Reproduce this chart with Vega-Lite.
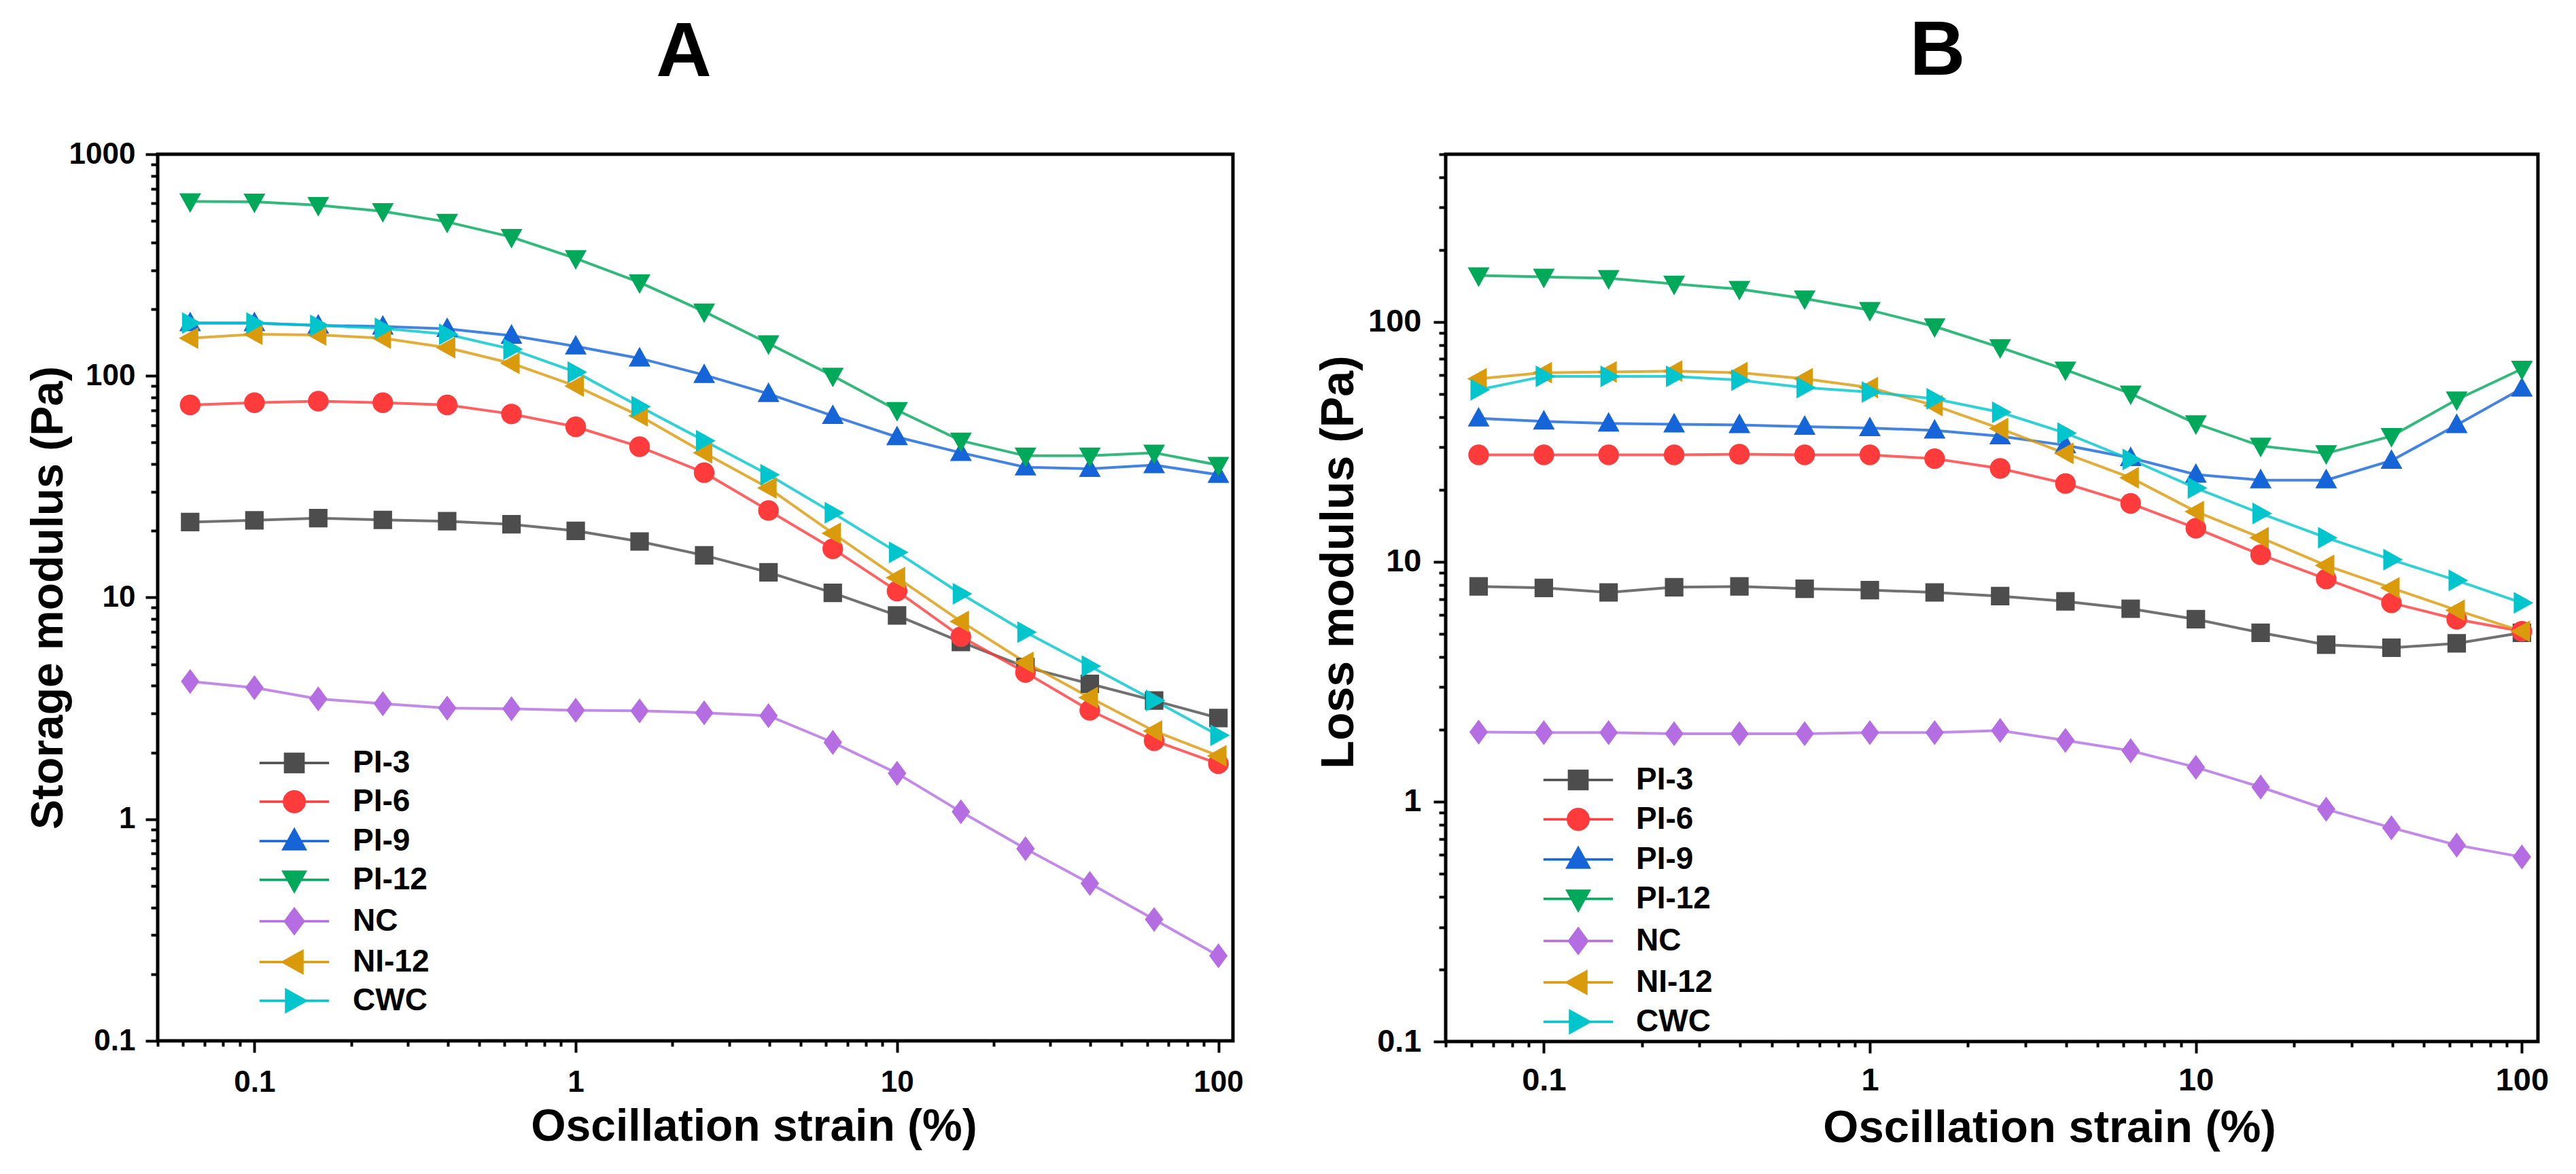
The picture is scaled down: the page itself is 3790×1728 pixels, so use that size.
{
  "$schema": "https://vega.github.io/schema/vega-lite/v6.json",
  "padding": {"left": 35, "right": 40, "top": 17, "bottom": 10},
  "spacing": 86,
  "datasets": {
    "storage": [
      {"strain": 0.0631, "series": "PI-3", "G": 21.9}, {"strain": 0.1, "series": "PI-3", "G": 22.3}, {"strain": 0.158, "series": "PI-3", "G": 22.8}, {"strain": 0.251, "series": "PI-3", "G": 22.4}, {"strain": 0.398, "series": "PI-3", "G": 22.1}, {"strain": 0.631, "series": "PI-3", "G": 21.4}, {"strain": 1, "series": "PI-3", "G": 20.0}, {"strain": 1.58, "series": "PI-3", "G": 17.9}, {"strain": 2.51, "series": "PI-3", "G": 15.5}, {"strain": 3.98, "series": "PI-3", "G": 13.0}, {"strain": 6.31, "series": "PI-3", "G": 10.5}, {"strain": 10, "series": "PI-3", "G": 8.3}, {"strain": 15.8, "series": "PI-3", "G": 6.3}, {"strain": 25.1, "series": "PI-3", "G": 4.86}, {"strain": 39.8, "series": "PI-3", "G": 4.08}, {"strain": 63.1, "series": "PI-3", "G": 3.43}, {"strain": 100, "series": "PI-3", "G": 2.86},
      {"strain": 0.0631, "series": "PI-6", "G": 74}, {"strain": 0.1, "series": "PI-6", "G": 75.7}, {"strain": 0.158, "series": "PI-6", "G": 76.9}, {"strain": 0.251, "series": "PI-6", "G": 75.7}, {"strain": 0.398, "series": "PI-6", "G": 74}, {"strain": 0.631, "series": "PI-6", "G": 67.3}, {"strain": 1, "series": "PI-6", "G": 58.9}, {"strain": 1.58, "series": "PI-6", "G": 47.9}, {"strain": 2.51, "series": "PI-6", "G": 36.6}, {"strain": 3.98, "series": "PI-6", "G": 24.7}, {"strain": 6.31, "series": "PI-6", "G": 16.6}, {"strain": 10, "series": "PI-6", "G": 10.7}, {"strain": 15.8, "series": "PI-6", "G": 6.66}, {"strain": 25.1, "series": "PI-6", "G": 4.59}, {"strain": 39.8, "series": "PI-6", "G": 3.10}, {"strain": 63.1, "series": "PI-6", "G": 2.26}, {"strain": 100, "series": "PI-6", "G": 1.78},
      {"strain": 0.0631, "series": "PI-9", "G": 173}, {"strain": 0.1, "series": "PI-9", "G": 173}, {"strain": 0.158, "series": "PI-9", "G": 169}, {"strain": 0.251, "series": "PI-9", "G": 167}, {"strain": 0.398, "series": "PI-9", "G": 163}, {"strain": 0.631, "series": "PI-9", "G": 152}, {"strain": 1, "series": "PI-9", "G": 136}, {"strain": 1.58, "series": "PI-9", "G": 120}, {"strain": 2.51, "series": "PI-9", "G": 101}, {"strain": 3.98, "series": "PI-9", "G": 83}, {"strain": 6.31, "series": "PI-9", "G": 66}, {"strain": 10, "series": "PI-9", "G": 53}, {"strain": 15.8, "series": "PI-9", "G": 45}, {"strain": 25.1, "series": "PI-9", "G": 38.7}, {"strain": 39.8, "series": "PI-9", "G": 38.1}, {"strain": 63.1, "series": "PI-9", "G": 39.6}, {"strain": 100, "series": "PI-9", "G": 35.8},
      {"strain": 0.0631, "series": "PI-12", "G": 612}, {"strain": 0.1, "series": "PI-12", "G": 610}, {"strain": 0.158, "series": "PI-12", "G": 589}, {"strain": 0.251, "series": "PI-12", "G": 553}, {"strain": 0.398, "series": "PI-12", "G": 495}, {"strain": 0.631, "series": "PI-12", "G": 423}, {"strain": 1, "series": "PI-12", "G": 339}, {"strain": 1.58, "series": "PI-12", "G": 264}, {"strain": 2.51, "series": "PI-12", "G": 195}, {"strain": 3.98, "series": "PI-12", "G": 140}, {"strain": 6.31, "series": "PI-12", "G": 100}, {"strain": 10, "series": "PI-12", "G": 70}, {"strain": 15.8, "series": "PI-12", "G": 51}, {"strain": 25.1, "series": "PI-12", "G": 43.6}, {"strain": 39.8, "series": "PI-12", "G": 43.6}, {"strain": 63.1, "series": "PI-12", "G": 45}, {"strain": 100, "series": "PI-12", "G": 39.6},
      {"strain": 0.0631, "series": "NC", "G": 4.18}, {"strain": 0.1, "series": "NC", "G": 3.92}, {"strain": 0.158, "series": "NC", "G": 3.49}, {"strain": 0.251, "series": "NC", "G": 3.32}, {"strain": 0.398, "series": "NC", "G": 3.17}, {"strain": 0.631, "series": "NC", "G": 3.15}, {"strain": 1, "series": "NC", "G": 3.10}, {"strain": 1.58, "series": "NC", "G": 3.08}, {"strain": 2.51, "series": "NC", "G": 3.02}, {"strain": 3.98, "series": "NC", "G": 2.93}, {"strain": 6.31, "series": "NC", "G": 2.22}, {"strain": 10, "series": "NC", "G": 1.61}, {"strain": 15.8, "series": "NC", "G": 1.08}, {"strain": 25.1, "series": "NC", "G": 0.736}, {"strain": 39.8, "series": "NC", "G": 0.513}, {"strain": 63.1, "series": "NC", "G": 0.353}, {"strain": 100, "series": "NC", "G": 0.242},
      {"strain": 0.0631, "series": "NI-12", "G": 148}, {"strain": 0.1, "series": "NI-12", "G": 154}, {"strain": 0.158, "series": "NI-12", "G": 153}, {"strain": 0.251, "series": "NI-12", "G": 148}, {"strain": 0.398, "series": "NI-12", "G": 134}, {"strain": 0.631, "series": "NI-12", "G": 114}, {"strain": 1, "series": "NI-12", "G": 90}, {"strain": 1.58, "series": "NI-12", "G": 66}, {"strain": 2.51, "series": "NI-12", "G": 45}, {"strain": 3.98, "series": "NI-12", "G": 31.2}, {"strain": 6.31, "series": "NI-12", "G": 19.5}, {"strain": 10, "series": "NI-12", "G": 12.3}, {"strain": 15.8, "series": "NI-12", "G": 7.8}, {"strain": 25.1, "series": "NI-12", "G": 5.1}, {"strain": 39.8, "series": "NI-12", "G": 3.54}, {"strain": 63.1, "series": "NI-12", "G": 2.50}, {"strain": 100, "series": "NI-12", "G": 1.93},
      {"strain": 0.0631, "series": "CWC", "G": 173}, {"strain": 0.1, "series": "CWC", "G": 173}, {"strain": 0.158, "series": "CWC", "G": 169}, {"strain": 0.251, "series": "CWC", "G": 164}, {"strain": 0.398, "series": "CWC", "G": 154}, {"strain": 0.631, "series": "CWC", "G": 132}, {"strain": 1, "series": "CWC", "G": 104}, {"strain": 1.58, "series": "CWC", "G": 72.7}, {"strain": 2.51, "series": "CWC", "G": 51}, {"strain": 3.98, "series": "CWC", "G": 35.8}, {"strain": 6.31, "series": "CWC", "G": 24.1}, {"strain": 10, "series": "CWC", "G": 16.0}, {"strain": 15.8, "series": "CWC", "G": 10.4}, {"strain": 25.1, "series": "CWC", "G": 6.98}, {"strain": 39.8, "series": "CWC", "G": 4.90}, {"strain": 63.1, "series": "CWC", "G": 3.43}, {"strain": 100, "series": "CWC", "G": 2.39}
    ],
    "loss": [
      {"strain": 0.0631, "series": "PI-3", "G": 7.89}, {"strain": 0.1, "series": "PI-3", "G": 7.78}, {"strain": 0.158, "series": "PI-3", "G": 7.45}, {"strain": 0.251, "series": "PI-3", "G": 7.83}, {"strain": 0.398, "series": "PI-3", "G": 7.89}, {"strain": 0.631, "series": "PI-3", "G": 7.72}, {"strain": 1, "series": "PI-3", "G": 7.62}, {"strain": 1.58, "series": "PI-3", "G": 7.45}, {"strain": 2.51, "series": "PI-3", "G": 7.19}, {"strain": 3.98, "series": "PI-3", "G": 6.84}, {"strain": 6.31, "series": "PI-3", "G": 6.37}, {"strain": 10, "series": "PI-3", "G": 5.76}, {"strain": 15.8, "series": "PI-3", "G": 5.06}, {"strain": 25.1, "series": "PI-3", "G": 4.51}, {"strain": 39.8, "series": "PI-3", "G": 4.38}, {"strain": 63.1, "series": "PI-3", "G": 4.57}, {"strain": 100, "series": "PI-3", "G": 5.06},
      {"strain": 0.0631, "series": "PI-6", "G": 27.9}, {"strain": 0.1, "series": "PI-6", "G": 27.9}, {"strain": 0.158, "series": "PI-6", "G": 27.9}, {"strain": 0.251, "series": "PI-6", "G": 27.9}, {"strain": 0.398, "series": "PI-6", "G": 28.1}, {"strain": 0.631, "series": "PI-6", "G": 27.9}, {"strain": 1, "series": "PI-6", "G": 27.9}, {"strain": 1.58, "series": "PI-6", "G": 26.9}, {"strain": 2.51, "series": "PI-6", "G": 24.5}, {"strain": 3.98, "series": "PI-6", "G": 21.2}, {"strain": 6.31, "series": "PI-6", "G": 17.5}, {"strain": 10, "series": "PI-6", "G": 13.8}, {"strain": 15.8, "series": "PI-6", "G": 10.7}, {"strain": 25.1, "series": "PI-6", "G": 8.48}, {"strain": 39.8, "series": "PI-6", "G": 6.74}, {"strain": 63.1, "series": "PI-6", "G": 5.76}, {"strain": 100, "series": "PI-6", "G": 5.13},
      {"strain": 0.0631, "series": "PI-9", "G": 39.6}, {"strain": 0.1, "series": "PI-9", "G": 38.5}, {"strain": 0.158, "series": "PI-9", "G": 37.7}, {"strain": 0.251, "series": "PI-9", "G": 37.4}, {"strain": 0.398, "series": "PI-9", "G": 37.2}, {"strain": 0.631, "series": "PI-9", "G": 36.6}, {"strain": 1, "series": "PI-9", "G": 36.1}, {"strain": 1.58, "series": "PI-9", "G": 35.3}, {"strain": 2.51, "series": "PI-9", "G": 33.4}, {"strain": 3.98, "series": "PI-9", "G": 30.6}, {"strain": 6.31, "series": "PI-9", "G": 27.1}, {"strain": 10, "series": "PI-9", "G": 23.1}, {"strain": 15.8, "series": "PI-9", "G": 21.9}, {"strain": 25.1, "series": "PI-9", "G": 21.9}, {"strain": 39.8, "series": "PI-9", "G": 26.4}, {"strain": 63.1, "series": "PI-9", "G": 37.2}, {"strain": 100, "series": "PI-9", "G": 52.8},
      {"strain": 0.0631, "series": "PI-12", "G": 156}, {"strain": 0.1, "series": "PI-12", "G": 154}, {"strain": 0.158, "series": "PI-12", "G": 152}, {"strain": 0.251, "series": "PI-12", "G": 144}, {"strain": 0.398, "series": "PI-12", "G": 137}, {"strain": 0.631, "series": "PI-12", "G": 125}, {"strain": 1, "series": "PI-12", "G": 112}, {"strain": 1.58, "series": "PI-12", "G": 95.7}, {"strain": 2.51, "series": "PI-12", "G": 78.3}, {"strain": 3.98, "series": "PI-12", "G": 63.2}, {"strain": 6.31, "series": "PI-12", "G": 50.2}, {"strain": 10, "series": "PI-12", "G": 37.7}, {"strain": 15.8, "series": "PI-12", "G": 30.4}, {"strain": 25.1, "series": "PI-12", "G": 28.3}, {"strain": 39.8, "series": "PI-12", "G": 33.4}, {"strain": 63.1, "series": "PI-12", "G": 47.4}, {"strain": 100, "series": "PI-12", "G": 63.7},
      {"strain": 0.0631, "series": "NC", "G": 1.95}, {"strain": 0.1, "series": "NC", "G": 1.94}, {"strain": 0.158, "series": "NC", "G": 1.94}, {"strain": 0.251, "series": "NC", "G": 1.92}, {"strain": 0.398, "series": "NC", "G": 1.92}, {"strain": 0.631, "series": "NC", "G": 1.92}, {"strain": 1, "series": "NC", "G": 1.94}, {"strain": 1.58, "series": "NC", "G": 1.94}, {"strain": 2.51, "series": "NC", "G": 1.98}, {"strain": 3.98, "series": "NC", "G": 1.80}, {"strain": 6.31, "series": "NC", "G": 1.63}, {"strain": 10, "series": "NC", "G": 1.39}, {"strain": 15.8, "series": "NC", "G": 1.15}, {"strain": 25.1, "series": "NC", "G": 0.93}, {"strain": 39.8, "series": "NC", "G": 0.778}, {"strain": 63.1, "series": "NC", "G": 0.659}, {"strain": 100, "series": "NC", "G": 0.588},
      {"strain": 0.0631, "series": "NI-12", "G": 57.9}, {"strain": 0.1, "series": "NI-12", "G": 61.4}, {"strain": 0.158, "series": "NI-12", "G": 61.8}, {"strain": 0.251, "series": "NI-12", "G": 62.3}, {"strain": 0.398, "series": "NI-12", "G": 61.4}, {"strain": 0.631, "series": "NI-12", "G": 57.9}, {"strain": 1, "series": "NI-12", "G": 53.2}, {"strain": 1.58, "series": "NI-12", "G": 44.8}, {"strain": 2.51, "series": "NI-12", "G": 35.9}, {"strain": 3.98, "series": "NI-12", "G": 28.3}, {"strain": 6.31, "series": "NI-12", "G": 22.4}, {"strain": 10, "series": "NI-12", "G": 16.2}, {"strain": 15.8, "series": "NI-12", "G": 12.6}, {"strain": 25.1, "series": "NI-12", "G": 9.65}, {"strain": 39.8, "series": "NI-12", "G": 7.78}, {"strain": 63.1, "series": "NI-12", "G": 6.28}, {"strain": 100, "series": "NI-12", "G": 5.13},
      {"strain": 0.0631, "series": "CWC", "G": 52.1}, {"strain": 0.1, "series": "CWC", "G": 59.3}, {"strain": 0.158, "series": "CWC", "G": 59.3}, {"strain": 0.251, "series": "CWC", "G": 59.3}, {"strain": 0.398, "series": "CWC", "G": 57.2}, {"strain": 0.631, "series": "CWC", "G": 53.2}, {"strain": 1, "series": "CWC", "G": 51.0}, {"strain": 1.58, "series": "CWC", "G": 47.8}, {"strain": 2.51, "series": "CWC", "G": 42.0}, {"strain": 3.98, "series": "CWC", "G": 34.4}, {"strain": 6.31, "series": "CWC", "G": 26.7}, {"strain": 10, "series": "CWC", "G": 20.3}, {"strain": 15.8, "series": "CWC", "G": 15.9}, {"strain": 25.1, "series": "CWC", "G": 12.6}, {"strain": 39.8, "series": "CWC", "G": 10.2}, {"strain": 63.1, "series": "CWC", "G": 8.36}, {"strain": 100, "series": "CWC", "G": 6.74}
    ]
  },
  "config": {
    "font": "Liberation Sans",
    "view": {"stroke": "black", "strokeWidth": 5},
    "axis": {
      "domain": false,
      "grid": false,
      "tickColor": "black",
      "tickWidth": 4,
      "tickSize": 17,
      "labelColor": "black",
      "labelFontWeight": "bold",
      "labelFlush": false,
      "labelOverlap": false,
      "titleColor": "black",
      "titleFontWeight": "bold"
    },
    "title": {"fontSize": 113, "fontWeight": "bold", "color": "black", "frame": "group", "anchor": "middle"}
  },
  "resolve": {"scale": {"color": "independent", "shape": "independent"}},
  "hconcat": [
    {
      "title": {"text": "A", "dx": -17, "offset": 69},
      "width": 1582,
      "height": 1305,
      "data": {"name": "storage"},
      "encoding": {
        "x": {
          "field": "strain", "type": "quantitative",
          "scale": {"type": "log", "domain": [0.05, 111], "nice": false},
          "axis": {
            "title": "Oscillation strain (%)", "titleFontSize": 66, "titleX": 877, "titleAlign": "center", "titlePadding": 10,
            "minExtent": 84, "maxExtent": 84,
            "values": [0.05, 0.06, 0.07, 0.08, 0.09, 0.1, 0.2, 0.3, 0.4, 0.5, 0.6, 0.7, 0.8, 0.9, 1, 2, 3, 4, 5, 6, 7, 8, 9, 10, 20, 30, 40, 50, 60, 70, 80, 90, 100],
            "format": "~g",
            "labelExpr": "datum.value == 0.1 || datum.value == 1 || datum.value == 10 || datum.value == 100 ? datum.label : ''",
            "tickSize": {"condition": {"test": "datum.value == 0.1 || datum.value == 1 || datum.value == 10 || datum.value == 100", "value": 17}, "value": 8},
            "labelFontSize": 44, "labelPadding": 22
          }
        },
        "y": {
          "field": "G", "type": "quantitative",
          "scale": {"type": "log", "domain": [0.1, 1000], "nice": false},
          "axis": {
            "title": "Storage modulus (Pa)", "titleFontSize": 66, "titlePadding": 15,
            "minExtent": 112, "maxExtent": 112,
            "values": [0.1, 0.2, 0.3, 0.4, 0.5, 0.6, 0.7, 0.8, 0.9, 1, 2, 3, 4, 5, 6, 7, 8, 9, 10, 20, 30, 40, 50, 60, 70, 80, 90, 100, 200, 300, 400, 500, 600, 700, 800, 900, 1000],
            "format": "~g",
            "labelExpr": "datum.value == 0.1 || datum.value == 1 || datum.value == 10 || datum.value == 100 || datum.value == 1000 ? datum.label : ''",
            "tickSize": {"condition": {"test": "datum.value == 0.1 || datum.value == 1 || datum.value == 10 || datum.value == 100 || datum.value == 1000", "value": 18}, "value": 10},
            "labelFontSize": 44, "labelPadding": 15
          }
        },
        "color": {
          "field": "series", "type": "nominal",
          "scale": {"domain": ["PI-3", "PI-6", "PI-9", "PI-12", "NC", "NI-12", "CWC"], "range": ["#4d4d4d", "#ff3b3b", "#1565d8", "#00a85a", "#b46ee2", "#d99a0b", "#00c5cc"]},
          "legend": {"orient": "none", "legendX": 178, "legendY": 873, "title": null, "padding": 0, "symbolSize": 1024, "symbolStrokeWidth": 3.5, "symbolOpacity": 1, "labelFontSize": 46, "labelFontWeight": "bold", "labelColor": "black", "labelOffset": 63, "rowPadding": 11}
        }
      },
      "layer": [
        {"mark": {"type": "line", "strokeWidth": 4, "opacity": 0.8}},
        {
          "mark": {"type": "point", "filled": true, "opacity": 1, "size": 1024, "strokeWidth": 0},
          "encoding": {
            "shape": {
              "field": "series", "type": "nominal",
              "scale": {"domain": ["PI-3", "PI-6", "PI-9", "PI-12", "NC", "NI-12", "CWC"], "range": ["M-3.2,0H3.2M-0.85,-0.85H0.85V0.85H-0.85Z", "M-3.2,0H3.2M0.95,0A0.95,0.95,0,1,1,-0.95,0A0.95,0.95,0,1,1,0.95,0Z", "M-3.2,0H3.2M0,-1.05L1,0.75H-1Z", "M-3.2,0H3.2M0,1.05L1,-0.75H-1Z", "M-3.2,0H3.2M0,-1.15L0.85,0L0,1.15L-0.85,0Z", "M-3.2,0H3.2M-1.05,0L0.75,-1V1Z", "M-3.2,0H3.2M1.05,0L-0.75,-1V1Z"]},
              "legend": {"orient": "none", "legendX": 178, "legendY": 873, "title": null, "padding": 0, "symbolSize": 1024, "symbolStrokeWidth": 3.5, "symbolOpacity": 1, "labelFontSize": 46, "labelFontWeight": "bold", "labelColor": "black", "labelOffset": 63, "rowPadding": 11}
            }
          }
        }
      ]
    },
    {
      "title": {"text": "B", "dx": -80, "offset": 69},
      "width": 1607,
      "height": 1306,
      "data": {"name": "loss"},
      "encoding": {
        "x": {
          "field": "strain", "type": "quantitative",
          "scale": {"type": "log", "domain": [0.05, 112], "nice": false},
          "axis": {
            "title": "Oscillation strain (%)", "titleFontSize": 67, "titleX": 888, "titleAlign": "center", "titlePadding": 10,
            "minExtent": 84, "maxExtent": 84,
            "values": [0.05, 0.06, 0.07, 0.08, 0.09, 0.1, 0.2, 0.3, 0.4, 0.5, 0.6, 0.7, 0.8, 0.9, 1, 2, 3, 4, 5, 6, 7, 8, 9, 10, 20, 30, 40, 50, 60, 70, 80, 90, 100],
            "format": "~g",
            "labelExpr": "datum.value == 0.1 || datum.value == 1 || datum.value == 10 || datum.value == 100 ? datum.label : ''",
            "tickSize": {"condition": {"test": "datum.value == 0.1 || datum.value == 1 || datum.value == 10 || datum.value == 100", "value": 17}, "value": 8},
            "labelFontSize": 47, "labelPadding": 17
          }
        },
        "y": {
          "field": "G", "type": "quantitative",
          "scale": {"type": "log", "domain": [0.1, 500], "nice": false},
          "axis": {
            "title": "Loss modulus (Pa)", "titleFontSize": 68, "titlePadding": 13, "titleY": 600, "titleAlign": "center",
            "minExtent": 110, "maxExtent": 110,
            "values": [0.1, 0.2, 0.3, 0.4, 0.5, 0.6, 0.7, 0.8, 0.9, 1, 2, 3, 4, 5, 6, 7, 8, 9, 10, 20, 30, 40, 50, 60, 70, 80, 90, 100, 200, 300, 400, 500],
            "format": "~g",
            "labelExpr": "datum.value == 0.1 || datum.value == 1 || datum.value == 10 || datum.value == 100 ? datum.label : ''",
            "tickSize": {"condition": {"test": "datum.value == 0.1 || datum.value == 1 || datum.value == 10 || datum.value == 100", "value": 18}, "value": 10},
            "labelFontSize": 47, "labelPadding": 18
          }
        },
        "color": {
          "field": "series", "type": "nominal",
          "scale": {"domain": ["PI-3", "PI-6", "PI-9", "PI-12", "NC", "NI-12", "CWC"], "range": ["#4d4d4d", "#ff3b3b", "#1565d8", "#00a85a", "#b46ee2", "#d99a0b", "#00c5cc"]},
          "legend": {"orient": "none", "legendX": 172, "legendY": 898, "title": null, "padding": 0, "symbolSize": 1024, "symbolStrokeWidth": 3.5, "symbolOpacity": 1, "labelFontSize": 46, "labelFontWeight": "bold", "labelColor": "black", "labelOffset": 62, "rowPadding": 12}
        }
      },
      "layer": [
        {"mark": {"type": "line", "strokeWidth": 4, "opacity": 0.8}},
        {
          "mark": {"type": "point", "filled": true, "opacity": 1, "size": 1024, "strokeWidth": 0},
          "encoding": {
            "shape": {
              "field": "series", "type": "nominal",
              "scale": {"domain": ["PI-3", "PI-6", "PI-9", "PI-12", "NC", "NI-12", "CWC"], "range": ["M-3.2,0H3.2M-0.85,-0.85H0.85V0.85H-0.85Z", "M-3.2,0H3.2M0.95,0A0.95,0.95,0,1,1,-0.95,0A0.95,0.95,0,1,1,0.95,0Z", "M-3.2,0H3.2M0,-1.05L1,0.75H-1Z", "M-3.2,0H3.2M0,1.05L1,-0.75H-1Z", "M-3.2,0H3.2M0,-1.15L0.85,0L0,1.15L-0.85,0Z", "M-3.2,0H3.2M-1.05,0L0.75,-1V1Z", "M-3.2,0H3.2M1.05,0L-0.75,-1V1Z"]},
              "legend": {"orient": "none", "legendX": 172, "legendY": 898, "title": null, "padding": 0, "symbolSize": 1024, "symbolStrokeWidth": 3.5, "symbolOpacity": 1, "labelFontSize": 46, "labelFontWeight": "bold", "labelColor": "black", "labelOffset": 62, "rowPadding": 12}
            }
          }
        }
      ]
    }
  ]
}
